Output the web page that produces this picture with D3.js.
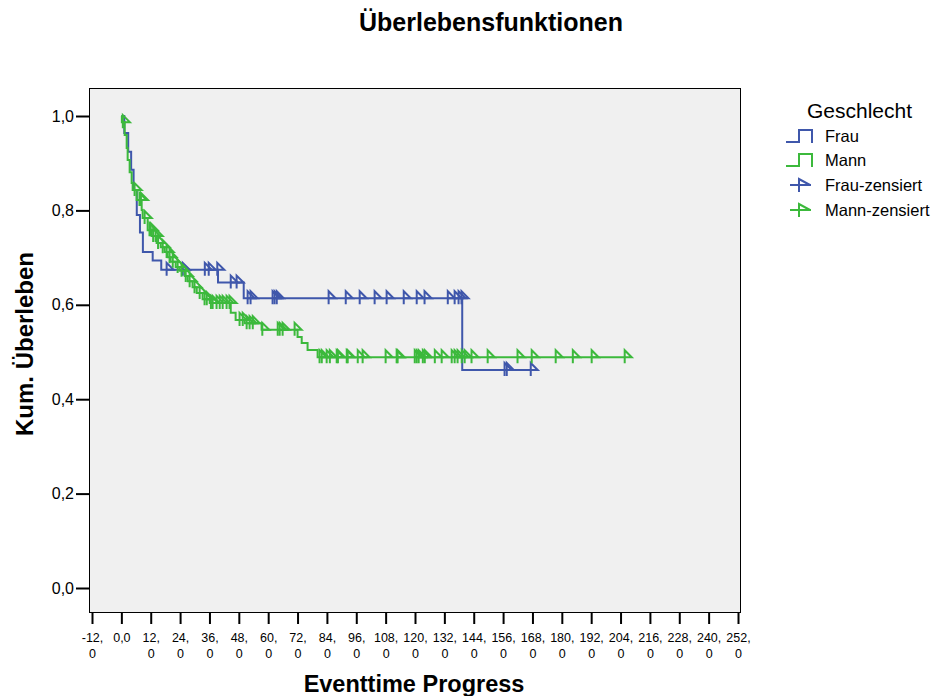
<!DOCTYPE html>
<html>
<head>
<meta charset="utf-8">
<script src="https://cdn.jsdelivr.net/npm/d3@7"></script>
<style>
  body { margin: 0; background: #fff; }
  text { font-family: "Liberation Sans", Arial, sans-serif; }
</style>
</head>
<body>
<div id="chart"></div>
<script>
// Frau (blue): event times (months) and survival after each event
let frauEventTimes = [1.2, 2.8, 4.0, 5.0, 6.3, 7.6, 8.8, 12.8, 16.3, 39.5, 50.0, 139.3];
let frauSurvival = [0.964, 0.924, 0.886, 0.843, 0.79, 0.753, 0.712, 0.694, 0.674, 0.647, 0.614, 0.462];
let frauCensored = [18.5, 25.1, 34.1, 35.7, 39.2, 44.7, 47.1, 51.6, 52.8, 61.8, 62.6, 63.5,
  84.7, 91.7, 97.4, 103.5, 108.4, 115.4, 120.7, 123.9, 133.4, 136.2, 137.8, 139.0,
  156.6, 157.5, 167.3];

// Mann (green)
let mannEventTimes = [0.2, 1.35, 2.17, 2.57, 3.39, 4.21, 4.62, 6.25, 8.3, 8.7, 10.75, 12.4,
  14.4, 16.1, 17.7, 18.9, 20.1, 22.2, 23.8, 25.9, 27.1, 29.1, 30.8, 33.2, 36.1, 44.7,
  46.7, 50.4, 57.3, 72.0, 73.7, 76.1, 80.2];
let mannSurvival = [0.987, 0.96, 0.932, 0.907, 0.881, 0.858, 0.843, 0.822, 0.801, 0.784,
  0.758, 0.746, 0.731, 0.722, 0.712, 0.701, 0.691, 0.68, 0.672, 0.661, 0.65, 0.637, 0.625,
  0.612, 0.604, 0.583, 0.568, 0.561, 0.547, 0.532, 0.519, 0.504, 0.489];
let mannCensored = [0.6, 5.4, 7.4, 8.0, 9.5, 11.5, 12.0, 13.0, 14.0, 15.0,
  16.9, 18.5, 19.7, 21.0, 23.0, 24.6, 26.3, 27.9, 29.9, 32.0,
  34.0, 34.9, 36.6, 37.3, 38.9, 40.2, 41.4, 43.0, 44.2,
  48.3, 49.6, 51.2, 52.4, 53.7, 57.6, 63.9, 64.7, 65.9, 70.8,
  81.0, 81.9, 83.9, 85.2, 88.0, 88.5, 92.1, 92.5, 96.6, 98.6, 108.0, 112.5, 112.9,
  119.9, 120.7, 121.5, 123.2, 124.0, 128.1, 130.9, 135.0, 136.2, 137.4, 139.1, 140.3,
  143.1, 149.7, 161.9, 167.7, 177.5, 184.5, 192.2, 205.7];

let xTicks = d3.range(-12, 253, 12);
let yTicks = [0, 0.2, 0.4, 0.6, 0.8, 1.0];
let legendLabels = ["Frau", "Mann", "Frau-zensiert", "Mann-zensiert"];

let blue = "#3f57ab";
let green = "#3cb93c";

let svg = d3.select("#chart").append("svg")
  .attr("width", 936).attr("height", 696)
  .style("background", "#fff");

let x = d3.scaleLinear().domain([-12, 252]).range([92, 738]);
let y = d3.scaleLinear().domain([0, 1]).range([588, 116]);

// plot frame
svg.append("rect")
  .attr("x", 89.5).attr("y", 88.5)
  .attr("width", 651).attr("height", 524)
  .attr("fill", "#f0f0f0").attr("stroke", "#000").attr("stroke-width", 1);

// axes
let yAxis = svg.append("g")
  .attr("transform", "translate(89,0)")
  .call(d3.axisLeft(y).tickValues(yTicks).tickSize(13).tickSizeOuter(0)
    .tickFormat(d => d3.format(".1f")(d).replace(".", ",")));
yAxis.select(".domain").remove();
yAxis.selectAll(".tick line").attr("stroke-width", 2);
yAxis.selectAll(".tick text").attr("font-size", 16).attr("fill", "#000")
  .attr("font-family", "Liberation Sans, Arial, sans-serif").attr("x", -15);

let xAxis = svg.append("g")
  .attr("transform", "translate(0,612)")
  .call(d3.axisBottom(x).tickValues(xTicks).tickSize(12).tickSizeOuter(0).tickFormat(""));
xAxis.select(".domain").remove();
xAxis.selectAll(".tick line").attr("stroke-width", 2);
xAxis.selectAll(".tick").each(function (d) {
  let t = d3.select(this).append("text")
    .attr("fill", "#000").attr("font-size", 12.5)
    .attr("text-anchor", "middle")
    .attr("font-family", "Liberation Sans, Arial, sans-serif");
  if (d === 0) {
    t.append("tspan").attr("x", 0).attr("y", 30).text("0,0");
  } else {
    t.append("tspan").attr("x", 0).attr("y", 30).text(d + ",");
    t.append("tspan").attr("x", 0).attr("y", 46).text("0");
  }
});

// titles
svg.append("text").attr("x", 491).attr("y", 31).attr("text-anchor", "middle")
  .attr("font-size", 25).attr("font-weight", "bold").text("Überlebensfunktionen");
svg.append("text").attr("transform", "translate(33,344) rotate(-90)")
  .attr("text-anchor", "middle").attr("font-size", 24).attr("font-weight", "bold")
  .text("Kum. Überleben");
svg.append("text").attr("x", 414).attr("y", 692).attr("text-anchor", "middle")
  .attr("font-size", 23.5).attr("font-weight", "bold").text("Eventtime Progress");

// step curves
let buildSeries = (times, surv, cens) => {
  let pts = [[0, 1]];
  times.forEach((t, i) => pts.push([t, surv[i]]));
  let end = Math.max(d3.max(times), d3.max(cens));
  pts.push([end, surv[surv.length - 1]]);
  let survAt = (t) => {
    let s = 1;
    times.forEach((et, i) => { if (et <= t) s = surv[i]; });
    return s;
  };
  let marks = cens.map(t => [t, survAt(t)]);
  return { pts, marks };
};

let line = d3.line().x(d => x(d[0])).y(d => y(d[1])).curve(d3.curveStepAfter);

let series = [
  { color: blue, ...buildSeries(frauEventTimes, frauSurvival, frauCensored) },
  { color: green, ...buildSeries(mannEventTimes, mannSurvival, mannCensored) },
];

let marker = (px, py) => `M${px},${py + 6}L${px},${py - 7}L${px + 7},${py}L${px},${py}`;

series.forEach((s) => {
  svg.append("path").attr("d", line(s.pts))
    .attr("fill", "none").attr("stroke", s.color).attr("stroke-width", 2);
  svg.append("g").selectAll("path")
    .data(s.marks)
    .join("path")
    .attr("d", d => marker(x(d[0]), y(d[1])))
    .attr("fill", "none").attr("stroke", s.color).attr("stroke-width", 2)
    .attr("stroke-linejoin", "miter");
});

// legend
let legend = svg.append("g");
legend.append("text").attr("x", 807).attr("y", 118).attr("font-size", 21).text("Geschlecht");
let rowY = [136, 160, 185, 210];
legendLabels.forEach((lab, i) => {
  let cy = rowY[i];
  let col = i % 2 === 0 ? blue : green;
  if (i < 2) {
    legend.append("path")
      .attr("d", `M786,${cy + 6}H799V${cy - 6}H812V${cy + 7}`)
      .attr("fill", "none").attr("stroke", col).attr("stroke-width", 2);
  } else {
    legend.append("path")
      .attr("d", `M790,${cy}H811M799,${cy + 7}V${cy - 6}L810,${cy}`)
      .attr("fill", "none").attr("stroke", col).attr("stroke-width", 2);
  }
  legend.append("text").attr("x", 825).attr("y", cy + 6).attr("font-size", 16.5).text(lab);
});
</script>
</body>
</html>
